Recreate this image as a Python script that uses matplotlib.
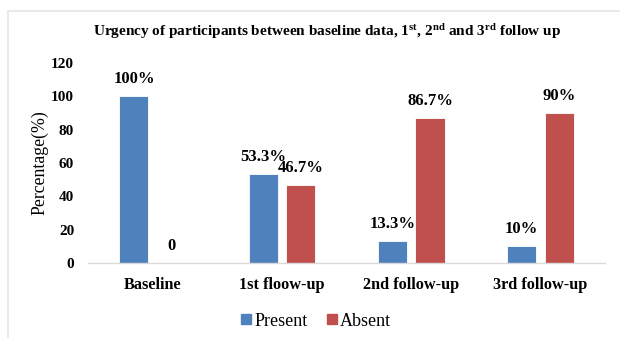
import matplotlib
matplotlib.use("Agg")
import matplotlib.pyplot as plt
import numpy as np
from matplotlib.lines import Line2D

plt.rcParams['font.family'] = ['Liberation Serif', 'DejaVu Serif']
plt.rcParams['mathtext.fontset'] = 'custom'
plt.rcParams['mathtext.rm'] = 'Liberation Serif'
plt.rcParams['mathtext.bf'] = 'Liberation Serif:bold'
plt.rcParams['mathtext.it'] = 'Liberation Serif:italic'

categories = ['Baseline', '1st floow-up', '2nd follow-up', '3rd follow-up']
present = [100, 53.3, 13.3, 10]
absent = [0, 46.7, 86.7, 90]
present_labels = ['100%', '53.3%', '13.3%', '10%']
absent_labels = ['0', '46.7%', '86.7%', '90%']
yticks = [0, 20, 40, 60, 80, 100, 120]

blue = '#4f81bd'
red = '#c0504d'

fig = plt.figure(figsize=(6.2, 3.38), dpi=100)
ax = fig.add_axes([0.142, 0.222, 0.834, 0.592])

x = np.arange(len(categories))
w = 0.225
off = 0.145
ax.bar(x - off, present, w, color=blue, edgecolor='white', linewidth=0.6)
ax.bar(x + off, absent, w, color=red, edgecolor='white', linewidth=0.6)

for i in range(len(categories)):
    ax.text(x[i] - off, present[i] + 5.5, present_labels[i], ha='center', va='bottom',
            fontsize=12, fontweight='bold')
    ya = absent[i] + 5.5
    ax.text(x[i] + off, ya, absent_labels[i], ha='center', va='bottom',
            fontsize=12, fontweight='bold')

ax.set_xlim(-0.5, len(categories) - 0.5)
ax.set_ylim(0, 120)
ax.set_yticks(yticks)
ax.set_yticklabels([str(v) for v in yticks], fontsize=11, fontweight='bold')
ax.set_xticks(x)
ax.set_xticklabels(categories, fontsize=11.7, fontweight='bold')
ax.tick_params(axis='x', length=0, pad=10)
ax.tick_params(axis='y', length=0, pad=10)
for s in ['top', 'right', 'left']:
    ax.spines[s].set_visible(False)
ax.spines['bottom'].set_color('#d9d9d9')
ax.spines['bottom'].set_linewidth(1)
ax.set_ylabel('Percentage(%)', fontsize=12.8, labelpad=2)

fig.text(0.527, 0.908,
         r'Urgency of participants between baseline data, 1$^{\mathbf{st}}$, 2$^{\mathbf{nd}}$ and 3$^{\mathbf{rd}}$ follow up',
         ha='center', va='center', fontsize=11, fontweight='bold')

handles = [Line2D([], [], marker='s', linestyle='none', color=blue, markersize=7.5),
           Line2D([], [], marker='s', linestyle='none', color=red, markersize=7.5)]
fig.legend(handles, ['Present', 'Absent'], loc='center', bbox_to_anchor=(0.507, 0.05),
           ncol=2, frameon=False, fontsize=13, handletextpad=0.0, columnspacing=0.9,
           handlelength=0.9)

# light frame
fig.add_artist(Line2D([8/620, 8/620], [0, 1 - 11/338], transform=fig.transFigure,
                      color='#e6e6e6', linewidth=1.2))
fig.add_artist(Line2D([8/620, 1], [1 - 11/338, 1 - 11/338], transform=fig.transFigure,
                      color='#e6e6e6', linewidth=1.2))

fig.savefig('out.png', dpi=100)
